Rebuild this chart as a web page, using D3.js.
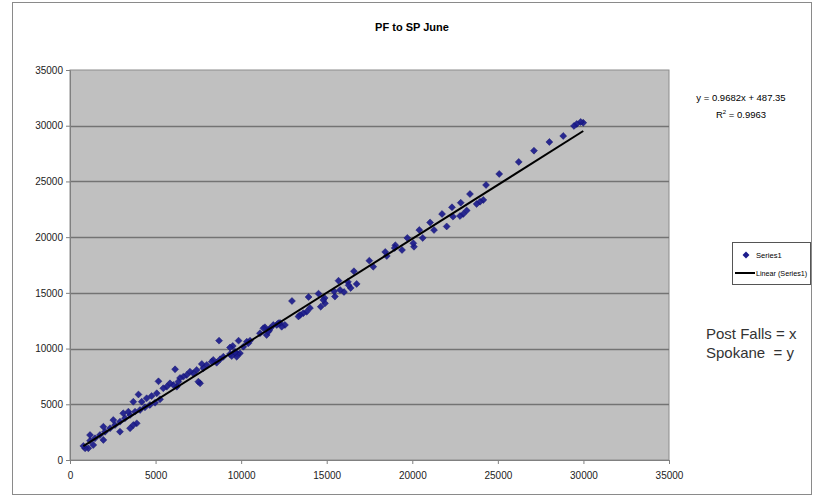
<!DOCTYPE html>
<html>
<head>
<meta charset="utf-8">
<script src="https://cdn.jsdelivr.net/npm/d3@7"></script>
<style>
  body { margin: 0; background: #fff; }
  text { font-family: "Liberation Sans", Arial, sans-serif; }
</style>
</head>
<body>
<svg id="chart" width="814" height="499"></svg>
<script>
// Post Falls (x) vs Spokane (y)
var pfValues = [29990, 29840, 29610, 29450, 28820, 28010, 27110, 26220, 25080, 24310,
  24150, 23960, 23760, 23370, 22830, 22320, 23180, 22980, 22790, 21740,
  22380, 22010, 21040, 21270, 20410, 20610, 20100, 20060, 19710, 19400,
  19010, 18970, 18510, 18420, 17720, 17490, 16750, 16590, 16400, 16240,
  16280, 16010, 15780, 15690, 15480, 15430, 14880, 14900, 14650, 14800,
  14520, 14020, 13940, 13830, 13630, 13440, 13350, 12970, 12560, 12370,
  12270, 12080, 12170, 11880, 11690, 11650, 11490, 11390, 11300, 11100,
  11590, 10520, 10420, 10330, 10130, 9930, 9850, 9780, 9740, 9640,
  9620, 9510, 9450, 9350, 9350, 8960, 8770, 8710, 8570, 8370,
  8280, 7990, 7790, 7700, 7600, 7500, 7400, 7200, 7010, 6820,
  6620, 6430, 6330, 6140, 6240, 6040, 5840, 5650, 5450, 5170,
  5260, 5070, 4970, 4770, 4670, 4480, 4380, 4190, 4090, 4000,
  3900, 3800, 3700, 3700, 3510, 3510, 3410, 3210, 3110, 2920,
  2920, 2630, 2530, 2340, 2050, 1950, 1950, 1750, 1460, 1360,
  1170, 1170, 1070, 880, 780];

var spValues = [30270, 30340, 30160, 29980, 29080, 28540, 27760, 26750, 25670, 24680,
  23340, 23180, 22980, 23870, 23090, 22680, 22390, 22080, 21900, 22080,
  21840, 20960, 21320, 20640, 20640, 19930, 19140, 19450, 19930, 18850,
  19270, 19030, 18310, 18670, 17350, 17890, 15800, 16940, 15440, 15980,
  15680, 15080, 15260, 16090, 14670, 15140, 14540, 14060, 13760, 14360,
  14930, 13640, 14630, 13310, 13170, 13010, 12880, 14270, 12120, 11960,
  12300, 12120, 12270, 12120, 11820, 11670, 11220, 11910, 11820, 11370,
  11520, 10710, 10470, 10620, 10170, 9580, 10710, 9510, 9270, 9720,
  9630, 10230, 9330, 10100, 9510, 9270, 9040, 10710, 8730, 8980,
  8820, 8530, 8230, 8620, 6880, 7030, 8080, 7780, 7930, 7630,
  7480, 7360, 7030, 8140, 6580, 6730, 6880, 6580, 6440, 7060,
  5450, 5990, 5140, 5740, 4940, 5540, 4730, 5230, 4490, 5880,
  3290, 4340, 3140, 5230, 4040, 2850, 4340, 3740, 4190, 3440,
  2540, 3140, 3590, 2850, 2540, 2990, 1800, 2240, 1950, 1350,
  1730, 2240, 1050, 1050, 1260];

var trendSlope = 0.9682;
var trendIntercept = 487.35;

var xTicks = [0, 5000, 10000, 15000, 20000, 25000, 30000, 35000];
var yTicks = [0, 5000, 10000, 15000, 20000, 25000, 30000, 35000];

var titleText = "PF to SP June";
var equationText = "y = 0.9682x + 487.35";
var rSquaredText = "0.9963";
var legendLabels = ["Series1", "Linear (Series1)"];
var noteLines = ["Post Falls = x", "Spokane  = y"];

var points = pfValues.map(function(d, i) { return {x: d, y: spValues[i]}; });

var svg = d3.select("#chart");

// outer chart frame
svg.append("rect")
  .attr("x", 12.5).attr("y", 2.5)
  .attr("width", 799).attr("height", 492)
  .style("fill", "#fff").style("stroke", "#8a8a8a").style("stroke-width", 1);

var plot = {left: 70, top: 70, right: 669, bottom: 460};

var x = d3.scaleLinear().domain([0, 35000]).range([plot.left, plot.right]);
var y = d3.scaleLinear().domain([0, 35000]).range([plot.bottom, plot.top]);

svg.append("rect")
  .attr("x", plot.left).attr("y", plot.top)
  .attr("width", plot.right - plot.left).attr("height", plot.bottom - plot.top)
  .style("fill", "#c0c0c0").style("stroke", "#8c8c8c");

// horizontal gridlines
svg.append("g").selectAll("line").data(yTicks.slice(1, -1))
  .enter().append("line")
  .attr("x1", plot.left).attr("x2", plot.right)
  .attr("y1", function(d) { return Math.round(y(d)) + 0.5; })
  .attr("y2", function(d) { return Math.round(y(d)) + 0.5; })
  .style("stroke", "#737373").style("stroke-width", 1.3);

var xAxis = svg.append("g")
  .attr("transform", "translate(0," + plot.bottom + ")")
  .call(d3.axisBottom(x).tickValues(xTicks).tickSize(4).tickFormat(d3.format("d")));
var yAxis = svg.append("g")
  .attr("transform", "translate(" + plot.left + ",0)")
  .call(d3.axisLeft(y).tickValues(yTicks).tickSize(4).tickFormat(d3.format("d")));

[xAxis, yAxis].forEach(function(ax) {
  ax.select(".domain").style("stroke", "#808080");
  ax.selectAll(".tick line").style("stroke", "#808080");
  ax.selectAll("text").style("font-size", "10px").style("fill", "#222")
    .style("font-family", "'Liberation Sans', Arial, sans-serif");
});
xAxis.selectAll("text").attr("dy", "1.2em");
yAxis.selectAll("text").attr("x", -7);

// scatter points
var diamond = d3.symbol(d3.symbolSquare, 24);
svg.append("g").selectAll("path").data(points)
  .enter().append("path")
  .attr("d", diamond)
  .attr("transform", function(d) {
    return "translate(" + x(d.x) + "," + y(d.y) + ") rotate(45)";
  })
  .style("fill", "#1c1c8c").style("stroke", "#10106e").style("stroke-width", 0.5)
  .style("opacity", 0.92);

// linear trendline
var xExt = d3.extent(pfValues);
svg.append("line")
  .attr("x1", x(xExt[0])).attr("y1", y(trendSlope * xExt[0] + trendIntercept))
  .attr("x2", x(xExt[1])).attr("y2", y(trendSlope * xExt[1] + trendIntercept))
  .style("stroke", "#000").style("stroke-width", 2);

svg.append("text")
  .attr("x", 412).attr("y", 31)
  .attr("text-anchor", "middle")
  .style("font-size", "11px").style("font-weight", "bold")
  .text(titleText);

// trendline equation
svg.append("text")
  .attr("x", 741).attr("y", 101)
  .attr("text-anchor", "middle")
  .style("font-size", "9.5px")
  .text(equationText);
var r2 = svg.append("text")
  .attr("x", 741).attr("y", 118)
  .attr("text-anchor", "middle")
  .style("font-size", "9.5px");
r2.append("tspan").text("R");
r2.append("tspan").attr("dy", -4).style("font-size", "6px").text("2");
r2.append("tspan").attr("dy", 4).text(" = " + rSquaredText);

// legend
var lg = svg.append("g").attr("transform", "translate(732,242)");
lg.append("rect")
  .attr("x", 0.5).attr("y", 0.5).attr("width", 78).attr("height", 42)
  .style("fill", "#fff").style("stroke", "#555");
lg.append("path")
  .attr("d", diamond)
  .attr("transform", "translate(14,13) rotate(45)")
  .style("fill", "#1c1c8c");
lg.append("text").attr("x", 24).attr("y", 16)
  .style("font-size", "7.6px")
  .text(legendLabels[0]);
lg.append("line")
  .attr("x1", 3).attr("x2", 23).attr("y1", 31).attr("y2", 31)
  .style("stroke", "#000").style("stroke-width", 2);
lg.append("text").attr("x", 24).attr("y", 33.5)
  .style("font-size", "7.2px")
  .text(legendLabels[1]);

svg.append("g").selectAll("text").data(noteLines)
  .enter().append("text")
  .attr("x", 706)
  .attr("y", function(d, i) { return 339 + i * 19; })
  .style("font-size", "15px").style("fill", "#333")
  .style("white-space", "pre")
  .text(function(d) { return d; });
</script>
</body>
</html>
